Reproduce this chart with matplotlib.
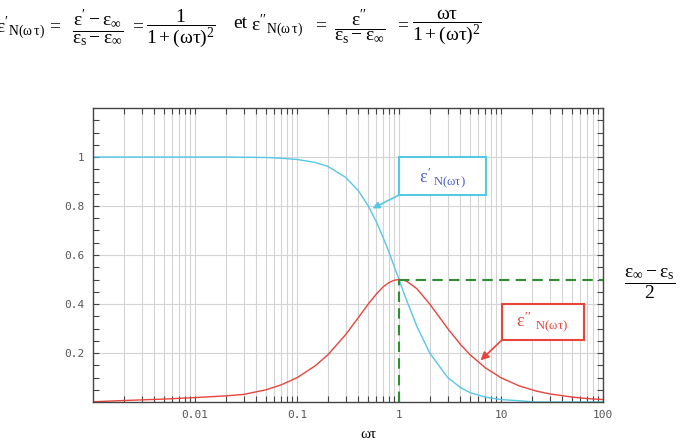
import matplotlib
matplotlib.use("Agg")
import matplotlib.pyplot as plt
from matplotlib.patches import Rectangle
from matplotlib.ticker import FixedLocator, NullFormatter, LogLocator

# upright Times-like maths, as in the reference
plt.rcParams["mathtext.fontset"] = "custom"
plt.rcParams["mathtext.rm"] = "Liberation Serif"
plt.rcParams["mathtext.it"] = "Liberation Serif"
plt.rcParams["mathtext.bf"] = "Liberation Serif:bold"

# values
omega_tau = [0.001, 0.002, 0.005, 0.01, 0.02, 0.03, 0.05, 0.07, 0.1, 0.15,
             0.2, 0.3, 0.4, 0.5, 0.6, 0.7, 0.8, 0.9, 1.0, 1.1, 1.2, 1.5,
             2, 3, 4, 5, 7, 10, 15, 22, 30, 50, 70, 100]
eps_real = [1.0, 1.0, 1.0, 1.0, 1.0, 0.999, 0.998, 0.995, 0.99, 0.978,
            0.962, 0.917, 0.862, 0.80, 0.735, 0.671, 0.61, 0.552, 0.5, 0.452, 0.41, 0.308,
            0.2, 0.1, 0.059, 0.038, 0.02, 0.01, 0.005, 0.0, 0.0, 0.0, 0.0, 0.0]
eps_imag = [0.001, 0.006, 0.012, 0.018, 0.025, 0.031, 0.05, 0.07, 0.099, 0.147,
            0.192, 0.275, 0.345, 0.40, 0.441, 0.47, 0.488, 0.497, 0.5, 0.498, 0.492, 0.462,
            0.4, 0.3, 0.235, 0.192, 0.14, 0.099, 0.066, 0.045, 0.033, 0.02, 0.014, 0.01]

xticks = [0.01, 0.1, 1, 10, 100]
xtick_labels = ["0.01", "0.1", "1", "10", "100"]
yticks = [0.2, 0.4, 0.6, 0.8, 1.0]
ytick_labels = ["0.2", "0.4", "0.6", "0.8", "1"]

CYAN = "#55c8e6"
RED = "#e8443c"
GREEN = "#2f8f2f"
GRID = "#d4d4d4"
SPINE = "#444444"
SERIF = ["Liberation Serif", "DejaVu Serif"]

W, H = 680, 447
fig = plt.figure(figsize=(W / 100, H / 100), dpi=100)
ax = fig.add_axes([93 / W, 1 - 402 / H, 510 / W, 294 / H])

ax.set_xscale("log")
ax.set_xlim(0.001, 100)
ax.set_ylim(0, 1.2)

ax.xaxis.set_major_locator(FixedLocator(xticks))
ax.xaxis.set_minor_locator(LogLocator(base=10, subs=range(2, 10), numticks=20))
ax.xaxis.set_minor_formatter(NullFormatter())
ax.set_xticklabels(xtick_labels)
ax.set_yticks(yticks)
ax.set_yticklabels(ytick_labels)
ax.yaxis.set_minor_locator(FixedLocator([i * 0.05 for i in range(1, 24)]))

ax.grid(True, which="both", axis="x", color=GRID, lw=0.8)
ax.grid(True, which="major", axis="y", color=GRID, lw=0.8)
ax.set_axisbelow(True)

for s in ax.spines.values():
    s.set_color(SPINE)
    s.set_linewidth(1.0)
ax.tick_params(which="both", direction="in", top=True, right=True,
               color=SPINE, width=0.8)
ax.tick_params(which="major", length=4, pad=6)
ax.tick_params(which="minor", length=4)
for lab in ax.get_xticklabels() + ax.get_yticklabels():
    lab.set_family("DejaVu Sans Mono")
    lab.set_fontsize(8)
    lab.set_color("#555555")

ax.plot(omega_tau, eps_real, color=CYAN, lw=1.0)
ax.plot(omega_tau, eps_imag, color=RED, lw=1.0)

# green dashed guides at the loss peak
ax.plot([1, 1], [0, 0.5], color=GREEN, lw=1.5, ls=(0, (5, 3)))
ax.plot([1, 100], [0.5, 0.5], color=GREEN, lw=1.5, ls=(0, (5, 3)))

# annotation boxes
ax.add_patch(Rectangle((1.0, 0.845), 6.1, 0.155, fill=True, facecolor="white",
                       edgecolor=CYAN, lw=1.5, zorder=4))
ax.text(2.65, 0.915, r"$\varepsilon'_{\;\mathrm{N(\omega\tau)}}$", color="#4a5fd0",
        fontsize=13, ha="center", va="center", zorder=5)
ax.annotate("", xy=(0.55, 0.79), xytext=(1.0, 0.845),
            arrowprops=dict(arrowstyle="-|>", color=CYAN, lw=1.2,
                            mutation_scale=10, shrinkA=0, shrinkB=0), zorder=5)

ax.add_patch(Rectangle((10.2, 0.253), 54.8, 0.147, fill=True, facecolor="white",
                       edgecolor=RED, lw=1.5, zorder=4))
ax.text(25, 0.325, r"$\varepsilon''\,_{\;\mathrm{N(\omega\tau)}}$", color=RED,
        fontsize=13, ha="center", va="center", zorder=5)
ax.annotate("", xy=(6.3, 0.17), xytext=(10.2, 0.253),
            arrowprops=dict(arrowstyle="-|>", color=RED, lw=1.2,
                            mutation_scale=12, shrinkA=0, shrinkB=0), zorder=5)


def px(x, y):
    return x / W, 1 - y / H


# right-hand fraction
fig.text(*px(650, 284), r"$\dfrac{\varepsilon_\infty - \varepsilon_\mathrm{s}}{2}$",
         fontsize=14, ha="center", va="center")

# x label
fig.text(*px(368, 435), "ωτ", family=SERIF, fontsize=11, ha="center", va="center")

# header equations
fs = 14
fig.text(*px(-4, 28), r"$\varepsilon'_{\mathrm{N}(\omega\,\tau)}$", fontsize=fs, ha="left", va="center")
fig.text(*px(54, 25), r"$=$", fontsize=fs, ha="center", va="center")
fig.text(*px(98, 28), r"$\dfrac{\varepsilon' - \varepsilon_\infty}{\varepsilon_\mathrm{s} - \varepsilon_\infty}$",
         fontsize=fs, ha="center", va="center")
fig.text(*px(137, 25), r"$=$", fontsize=fs, ha="center", va="center")
fig.text(*px(181, 28), r"$\dfrac{1}{1+(\omega\tau)^2}$", fontsize=fs, ha="center", va="center")
fig.text(*px(240, 24), "et", family=SERIF, fontsize=fs, ha="center", va="center")
fig.text(*px(251, 26), r"$\varepsilon''_{\mathrm{N}(\omega\,\tau)}$", fontsize=fs, ha="left", va="center")
fig.text(*px(320, 24), r"$=$", fontsize=fs, ha="center", va="center")
fig.text(*px(360, 27), r"$\dfrac{\varepsilon''}{\varepsilon_\mathrm{s} - \varepsilon_\infty}$",
         fontsize=fs, ha="center", va="center")
fig.text(*px(402, 24), r"$=$", fontsize=fs, ha="center", va="center")
fig.text(*px(447, 27), r"$\dfrac{\omega\tau}{1+(\omega\tau)^2}$", fontsize=fs, ha="center", va="center")

fig.savefig("out.png", dpi=100)
